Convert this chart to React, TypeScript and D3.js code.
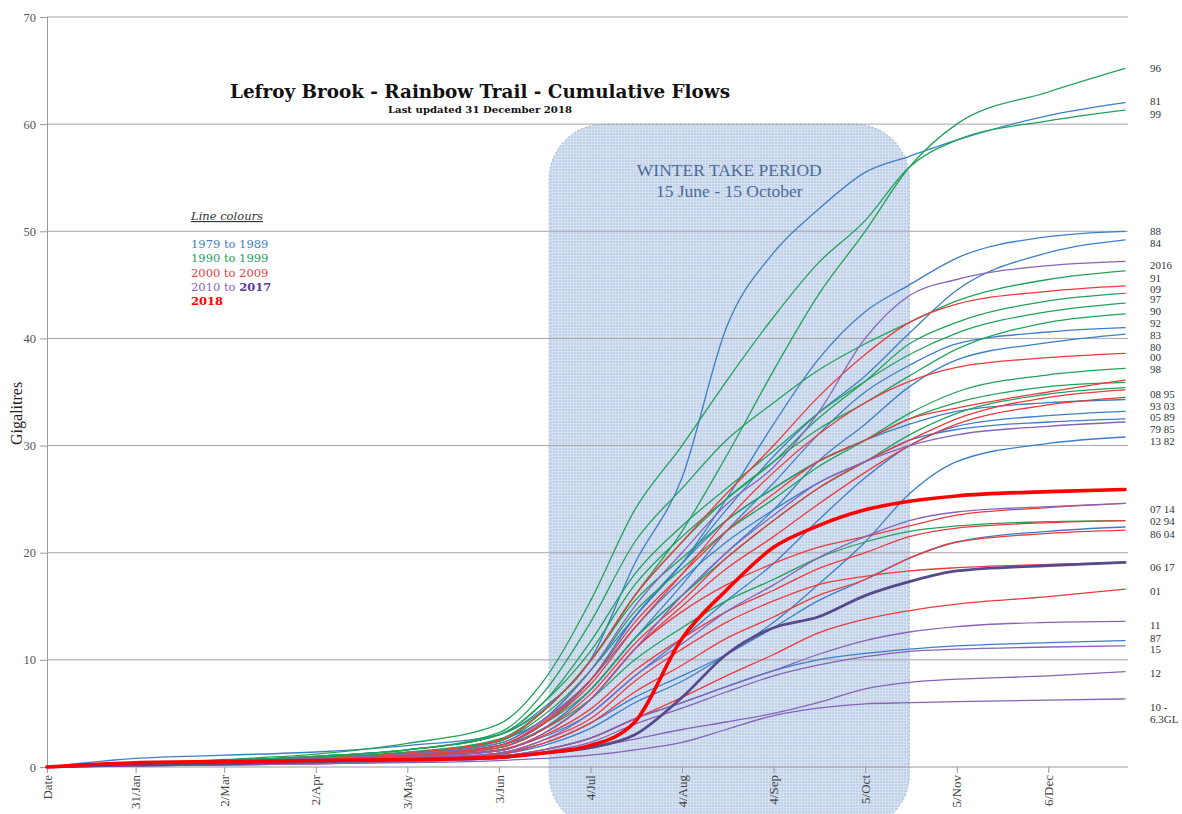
// @ts-nocheck
import React, { useEffect, useRef } from 'react';
import * as d3 from 'd3';

const sampleDays = [0, 30, 60, 91, 122, 153, 168, 184, 199, 215, 230, 246, 261, 277, 292, 308, 339, 365];

const tickDays = [0, 30, 60, 91, 122, 153, 184, 215, 246, 277, 308, 339];
const tickLabels = ['Date', '31/Jan', '2/Mar', '2/Apr', '3/May', '3/Jun', '4/Jul', '4/Aug', '4/Sep', '5/Oct', '5/Nov', '6/Dec'];
const yTicks = [0, 10, 20, 30, 40, 50, 60, 70];

// winter take period box (day-of-year)
const winterTake = [170, 292];

const years1979to1989 = ['1979', '1980', '1981', '1982', '1983', '1984', '1985', '1986', '1987', '1988', '1989'];
const flows1979to1989 = [
  [0, 0.3, 0.5, 0.7, 1.0, 1.6, 2.8, 5.0, 8.5, 12, 15.5, 19, 23, 27, 30, 31.8, 32.8, 33.2],
  [0, 0.3, 0.5, 0.8, 1.2, 2.0, 3.6, 7.2, 12, 16, 20, 24, 28.5, 32, 35.5, 38, 39.6, 40.4],
  [0, 0.8, 1.1, 1.4, 2.0, 3.0, 5.5, 10, 19, 27, 41, 48, 52, 55.5, 57, 58.5, 60.8, 62.0],
  [0, 0.2, 0.4, 0.6, 0.8, 1.2, 2.0, 3.6, 6, 8, 10.5, 13.5, 17, 21, 25.5, 28.5, 30.2, 30.8],
  [0, 0.3, 0.5, 0.7, 1.0, 1.8, 3.5, 7.2, 12, 17, 22, 26.5, 31, 35, 37.5, 39.5, 40.6, 41.0],
  [0, 0.3, 0.5, 0.8, 1.1, 2.0, 4.0, 8.1, 14, 19, 24, 29, 33, 36.5, 40.5, 44.5, 48, 49.2],
  [0, 0.3, 0.5, 0.8, 1.2, 2.2, 4.4, 8.1, 13, 17.5, 21, 24, 26.5, 28.5, 30.5, 31.5, 32.2, 32.5],
  [0, 0.2, 0.4, 0.6, 0.8, 1.3, 2.2, 4.1, 6.5, 8.5, 10.5, 13, 15.5, 17.5, 19.5, 21, 22, 22.4],
  [0, 0.2, 0.3, 0.5, 0.7, 1.0, 1.6, 2.7, 4.5, 6, 7.5, 9, 10, 10.6, 11, 11.3, 11.6, 11.8],
  [0, 0.3, 0.6, 0.9, 1.3, 2.5, 4.4, 9, 14, 19, 25, 32, 38, 42.5, 45, 47.5, 49.5, 50.0],
  [0, 0.3, 0.5, 0.8, 1.1, 2.0, 4.0, 8.1, 14, 19, 23, 26, 28.5, 30.5, 32, 33.2, 34, 34.3],
];

const years1990to1999 = ['1990', '1991', '1992', '1993', '1994', '1995', '1996', '1997', '1998', '1999'];
const flows1990to1999 = [
  [0, 0.3, 0.6, 1.0, 1.6, 3.0, 6.0, 11.7, 18, 22.5, 26, 29.5, 33, 36, 38.5, 40.5, 42.5, 43.3],
  [0, 0.3, 0.6, 1.0, 1.6, 3.2, 6.9, 13.5, 21, 26, 30.5, 34, 37, 39.5, 41.5, 43.5, 45.5, 46.3],
  [0, 0.3, 0.5, 0.8, 1.3, 2.4, 5.2, 9.9, 16, 21, 25, 28.5, 31.5, 34, 36.5, 39, 41.5, 42.3],
  [0, 0.2, 0.4, 0.7, 1.1, 2.0, 4.0, 7.2, 12, 16, 19.5, 23, 26, 28.5, 31, 33, 34.8, 35.4],
  [0, 0.2, 0.4, 0.7, 1.0, 1.8, 3.5, 6.3, 10, 13, 15.5, 17.5, 19.5, 21, 22, 22.5, 22.9, 23.0],
  [0, 0.3, 0.5, 0.9, 1.4, 2.6, 5.2, 9.9, 15.5, 19.5, 23, 26, 28.5, 30.5, 32.5, 34, 35.5, 35.9],
  [0, 0.3, 0.6, 1.0, 1.6, 3.0, 5.3, 9.9, 16, 22, 29, 37, 44, 50, 56, 60, 63, 65.2],
  [0, 0.3, 0.6, 1.0, 1.6, 3.0, 6.0, 10.8, 17, 21.5, 25, 28.5, 32.5, 36, 39.5, 41.5, 43.5, 44.2],
  [0, 0.3, 0.5, 0.9, 1.3, 2.4, 4.8, 9, 14.5, 18.5, 22, 25, 28, 30.5, 33, 35, 36.6, 37.2],
  [0, 0.3, 0.7, 1.2, 2.2, 4.0, 8.0, 15.5, 24, 30, 36, 42, 47, 51, 56, 58.5, 60.3, 61.3],
];

const years2000to2009 = ['2000', '2001', '2002', '2003', '2004', '2005', '2006', '2007', '2008', '2009'];
const flows2000to2009 = [
  [0, 0.2, 0.4, 0.7, 1.1, 2.0, 4.0, 7.7, 13, 18, 23, 27.5, 31, 34, 36, 37.3, 38.2, 38.6],
  [0, 0.2, 0.3, 0.5, 0.7, 1.0, 1.6, 2.7, 4.5, 6.5, 8.5, 10.5, 12.5, 13.8, 14.6, 15.2, 15.9, 16.6],
  [0, 0.2, 0.4, 0.6, 0.9, 1.5, 2.9, 5.4, 9, 12, 14.5, 16.5, 18.5, 20, 21.5, 22.3, 22.8, 23.0],
  [0, 0.2, 0.4, 0.7, 1.0, 1.8, 3.5, 6.8, 11.5, 15.5, 19.5, 23, 26, 28.5, 30.5, 32.5, 34.5, 35.2],
  [0, 0.2, 0.3, 0.5, 0.8, 1.2, 2.2, 4.1, 7, 9.5, 12, 14, 16, 17.5, 19.5, 21, 21.8, 22.1],
  [0, 0.2, 0.4, 0.6, 0.9, 1.6, 3.1, 6.3, 11, 15, 18.5, 21.5, 24.5, 27.5, 30, 32, 33.8, 34.5],
  [0, 0.2, 0.3, 0.5, 0.8, 1.3, 2.5, 4.5, 8, 11, 13.5, 15.5, 17, 17.8, 18.3, 18.6, 18.9, 19.1],
  [0, 0.2, 0.4, 0.6, 0.9, 1.5, 3.1, 6.3, 11, 14.5, 17, 19, 20.5, 21.5, 22.5, 23.5, 24.2, 24.6],
  [0, 0.2, 0.4, 0.7, 1.1, 2.0, 4.2, 8.1, 13.5, 18, 22, 25.5, 28.5, 30.5, 32.5, 33.5, 35, 36.1],
  [0, 0.3, 0.5, 0.8, 1.3, 2.5, 5.2, 9.9, 16, 21, 25.5, 30, 34.5, 38.5, 41.5, 43.2, 44.4, 44.9],
];

const years2010to2016 = ['2010', '2011', '2012', '2013', '2014', '2015', '2016'];
const flows2010to2016 = [
  [0, 0.1, 0.2, 0.3, 0.4, 0.6, 0.8, 1.1, 1.6, 2.3, 3.5, 4.8, 5.5, 5.9, 6.0, 6.1, 6.25, 6.35],
  [0, 0.1, 0.2, 0.4, 0.6, 1.0, 1.6, 2.7, 4.5, 6, 7.5, 9, 10.5, 11.8, 12.6, 13.1, 13.5, 13.6],
  [0, 0.1, 0.2, 0.3, 0.5, 0.8, 1.2, 1.8, 2.6, 3.5, 4.2, 5, 6, 7.3, 7.9, 8.2, 8.5, 8.9],
  [0, 0.2, 0.4, 0.6, 0.9, 1.5, 3.1, 6.3, 11, 16, 20, 23.5, 26.5, 28.5, 30, 31, 31.8, 32.2],
  [0, 0.2, 0.3, 0.5, 0.8, 1.3, 2.5, 5.0, 8.5, 11.5, 14.5, 17, 19.5, 21.5, 23, 23.8, 24.3, 24.6],
  [0, 0.1, 0.2, 0.3, 0.5, 0.8, 1.4, 2.3, 4, 5.5, 7, 8.5, 9.5, 10.3, 10.8, 11, 11.2, 11.3],
  [0, 0.3, 0.5, 0.8, 1.2, 2.2, 4.4, 9, 15, 20, 24.5, 28, 33, 40, 44, 45.5, 46.8, 47.2],
];

const flows2017 = [0, 0.2, 0.3, 0.5, 0.7, 1.0, 1.3, 1.8, 3, 6.5, 10.5, 13, 14, 16, 17.3, 18.3, 18.8, 19.1];
const flows2018 = [0, 0.4, 0.5, 0.6, 0.7, 0.9, 1.3, 2.0, 4.2, 12, 16.5, 20.5, 22.5, 24, 24.8, 25.3, 25.7, 25.9];

// labels at the right-hand end, with the value (GL) they sit at
const endLabels = ['96', '81', '99', '88', '84', '2016', '91', '09', '97', '90', '92', '83', '80', '00', '98',
  '08 95', '93 03', '05 89', '79 85', '13 82', '07 14', '02 94', '86 04', '06 17', '01', '11', '87', '15', '12', '10 -', '6.3GL'];
const endLabelValues = [65.2, 62.1, 60.9, 50.0, 48.9, 46.8, 45.6, 44.6, 43.6, 42.5, 41.4, 40.3, 39.2, 38.2, 37.1,
  34.8, 33.7, 32.6, 31.5, 30.4, 24.0, 22.9, 21.7, 18.6, 16.4, 13.2, 12.0, 11.0, 8.7, 5.6, 4.4];

const legendItems = ['1979 to 1989', '1990 to 1999', '2000 to 2009'];

const BLUE = '#3d7fc6';
const GREEN = '#21a25a';
const RED = '#ec3b3e';
const PURPLE = '#8465b8';
const DARK_PURPLE = '#57498a';
const RED_2018 = '#ff0000';

const App = () => {
  const svgRef = useRef(null);

  useEffect(() => {
    const width = 1182;
    const height = 814;
    const serif = '"Liberation Serif", "DejaVu Serif", serif';

    const x = d3.scaleLinear().domain([0, 366]).range([47, 1128]);
    const y = d3.scaleLinear().domain([0, 70]).range([767, 17]);

    const svg = d3.select(svgRef.current)
      .attr('width', width)
      .attr('height', height)
      .attr('viewBox', [0, 0, width, height]);
    svg.selectAll('*').remove();

    svg.append('rect').attr('width', width).attr('height', height).attr('fill', '#fff');

    const defs = svg.append('defs');
    const pat = defs.append('pattern')
      .attr('id', 'wgrid')
      .attr('width', 3)
      .attr('height', 3)
      .attr('patternUnits', 'userSpaceOnUse');
    pat.append('rect').attr('width', 3).attr('height', 3).attr('fill', '#c2d2ea');
    pat.append('path').attr('d', 'M3 0 L0 0 0 3').attr('fill', 'none').attr('stroke', '#e6edf7').attr('stroke-width', 0.9);

    // winter take period box
    svg.append('rect')
      .attr('x', x(winterTake[0]))
      .attr('y', y(60))
      .attr('width', x(winterTake[1]) - x(winterTake[0]))
      .attr('height', 705)
      .attr('rx', 55)
      .attr('fill', 'url(#wgrid)')
      .attr('stroke', '#9db3d6')
      .attr('stroke-dasharray', '2,2');

    svg.append('text')
      .attr('x', (x(winterTake[0]) + x(winterTake[1])) / 2)
      .attr('y', 176)
      .attr('text-anchor', 'middle')
      .attr('font-family', serif)
      .attr('font-size', 17.5)
      .attr('fill', '#4b6c9c')
      .text('WINTER TAKE PERIOD');
    svg.append('text')
      .attr('x', (x(winterTake[0]) + x(winterTake[1])) / 2)
      .attr('y', 197)
      .attr('text-anchor', 'middle')
      .attr('font-family', serif)
      .attr('font-size', 17.5)
      .attr('fill', '#4b6c9c')
      .text('15 June - 15 October');

    // gridlines
    svg.append('g')
      .selectAll('line')
      .data(yTicks.filter(d => d > 0))
      .join('line')
      .attr('x1', x(0)).attr('x2', x(366))
      .attr('y1', d => y(d)).attr('y2', d => y(d))
      .attr('stroke', '#a6a6a6')
      .attr('stroke-width', 1);

    // y axis
    const yAxis = svg.append('g')
      .attr('transform', `translate(${x(0)},0)`)
      .call(d3.axisLeft(y).tickValues(yTicks).tickSize(7).tickPadding(4).tickFormat(d3.format('d')));
    yAxis.select('.domain').attr('stroke', '#999');
    yAxis.selectAll('.tick line').attr('stroke', '#999');
    yAxis.selectAll('text').attr('font-family', serif).attr('font-size', 12.5).attr('fill', '#555');

    // x axis
    const xAxis = svg.append('g')
      .attr('transform', `translate(0,${y(0)})`)
      .call(d3.axisBottom(x).tickValues(tickDays).tickSize(6).tickFormat((d, i) => tickLabels[i]));
    xAxis.select('.domain').attr('stroke', '#999').attr('d', `M${x(0)},0H${x(366)}`);
    xAxis.selectAll('.tick line').attr('stroke', '#999');
    xAxis.selectAll('text')
      .attr('font-family', serif)
      .attr('font-size', 13)
      .attr('fill', '#444')
      .attr('transform', 'rotate(-90)')
      .attr('text-anchor', 'end')
      .attr('x', -8)
      .attr('y', 0)
      .attr('dy', '0.32em');

    svg.append('text')
      .attr('transform', `translate(22,${y(33)}) rotate(-90)`)
      .attr('text-anchor', 'middle')
      .attr('font-family', serif)
      .attr('font-size', 16)
      .attr('fill', '#222')
      .text('Gigalitres');

    // flow lines
    const line = d3.line()
      .x((d, i) => x(sampleDays[i]))
      .y(d => y(d))
      .curve(d3.curveMonotoneX);

    const series = [
      ...flows1979to1989.map((v, i) => ({ year: years1979to1989[i], values: v, color: BLUE, w: 1.3 })),
      ...flows1990to1999.map((v, i) => ({ year: years1990to1999[i], values: v, color: GREEN, w: 1.3 })),
      ...flows2000to2009.map((v, i) => ({ year: years2000to2009[i], values: v, color: RED, w: 1.3 })),
      ...flows2010to2016.map((v, i) => ({ year: years2010to2016[i], values: v, color: PURPLE, w: 1.3 })),
      { year: '2017', values: flows2017, color: DARK_PURPLE, w: 2.8 },
      { year: '2018', values: flows2018, color: RED_2018, w: 3.6 },
    ];

    svg.append('g')
      .attr('fill', 'none')
      .attr('stroke-linejoin', 'round')
      .attr('stroke-linecap', 'round')
      .selectAll('path')
      .data(series)
      .join('path')
      .attr('d', d => line(d.values))
      .attr('stroke', d => d.color)
      .attr('stroke-width', d => d.w);

    // right-hand end labels
    svg.append('g')
      .selectAll('text')
      .data(endLabels)
      .join('text')
      .attr('x', 1150)
      .attr('y', (d, i) => y(endLabelValues[i]))
      .attr('dy', '0.33em')
      .attr('font-family', serif)
      .attr('font-size', 11)
      .attr('fill', '#333')
      .text(d => d);

    // title
    svg.append('text')
      .attr('x', 480)
      .attr('y', 98)
      .attr('text-anchor', 'middle')
      .attr('font-family', '"DejaVu Serif", serif')
      .attr('font-weight', 'bold')
      .attr('font-size', 18)
      .attr('textLength', 500)
      .attr('lengthAdjust', 'spacingAndGlyphs')
      .attr('fill', '#111')
      .text('Lefroy Brook - Rainbow Trail - Cumulative Flows');
    svg.append('text')
      .attr('x', 480)
      .attr('y', 113)
      .attr('text-anchor', 'middle')
      .attr('font-family', '"DejaVu Serif", serif')
      .attr('font-weight', 'bold')
      .attr('font-size', 10)
      .attr('textLength', 184)
      .attr('lengthAdjust', 'spacingAndGlyphs')
      .attr('fill', '#111')
      .text('Last updated 31 December 2018');

    // legend
    const lg = svg.append('g').attr('font-family', '"DejaVu Serif", serif').attr('font-size', 11.5);
    lg.append('text')
      .attr('x', 191).attr('y', 220)
      .attr('font-style', 'italic')
      .attr('text-decoration', 'underline')
      .attr('fill', '#333')
      .text('Line colours');
    const legendColors = [BLUE, GREEN, RED];
    legendItems.forEach((t, i) => {
      lg.append('text')
        .attr('x', 191).attr('y', 248 + i * 14.3)
        .attr('fill', legendColors[i])
        .text(t);
    });
    const t4 = lg.append('text').attr('x', 191).attr('y', 291).attr('xml:space', 'preserve');
    t4.append('tspan').attr('fill', PURPLE).text('2010 to ');
    t4.append('tspan').attr('fill', '#5b3d99').attr('font-weight', 'bold').text('2017');
    lg.append('text')
      .attr('x', 191).attr('y', 305)
      .attr('fill', RED_2018)
      .attr('font-weight', 'bold')
      .text('2018');
  }, []);

  return (
    <div style={{ position: 'fixed', left: 0, top: 0 }}>
      <svg ref={svgRef}></svg>
    </div>
  );
};

export default App;
